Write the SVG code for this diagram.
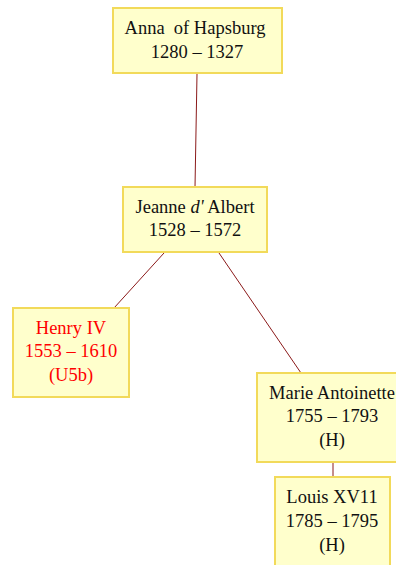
<svg xmlns="http://www.w3.org/2000/svg" width="396" height="565" viewBox="0 0 396 565">
  <style>
    .box { fill: #ffffcc; stroke: #f2da5a; stroke-width: 2; }
    .lbl { font-family: "Liberation Serif", "Times New Roman", serif; font-size: 18.5px; fill: #111; text-anchor: middle; }
    .red { fill: #ff0000; }
    .edge { stroke: #8b1a1a; stroke-width: 1; fill: none; }
  </style>
  <rect width="396" height="565" fill="#ffffff"/>
  <g id="connectors">
    <line class="edge" x1="197" y1="74" x2="195" y2="187"/>
    <line class="edge" x1="164" y1="253" x2="114" y2="308"/>
    <line class="edge" x1="219" y1="253" x2="301" y2="373"/>
    <line class="edge" x1="333" y1="462" x2="333" y2="477" stroke="#b03050"/>
  </g>
  <g id="anna">
    <rect class="box" x="113" y="8" width="169" height="65"/>
    <text class="lbl" x="195" y="34" xml:space="preserve">Anna  of Hapsburg</text>
    <text class="lbl" x="197" y="58">1280 – 1327</text>
  </g>
  <g id="jeanne">
    <rect class="box" x="123" y="187" width="144" height="65"/>
    <text class="lbl" x="195" y="213">Jeanne <tspan font-style="italic">d'</tspan> Albert</text>
    <text class="lbl" x="195" y="236">1528 – 1572</text>
  </g>
  <g id="henry">
    <rect class="box" x="13" y="308" width="116" height="89"/>
    <text class="lbl red" x="71" y="334">Henry IV</text>
    <text class="lbl red" x="71" y="357">1553 – 1610</text>
    <text class="lbl red" x="71" y="381">(U5b)</text>
  </g>
  <g id="marie">
    <rect class="box" x="257" y="373" width="150" height="89"/>
    <text class="lbl" x="332" y="399">Marie Antoinette</text>
    <text class="lbl" x="332" y="422">1755 – 1793</text>
    <text class="lbl" x="332" y="446">(H)</text>
  </g>
  <g id="louis">
    <rect class="box" x="275" y="477" width="115" height="100"/>
    <text class="lbl" x="332" y="503">Louis XV11</text>
    <text class="lbl" x="332" y="527">1785 – 1795</text>
    <text class="lbl" x="332" y="551">(H)</text>
  </g>
</svg>
